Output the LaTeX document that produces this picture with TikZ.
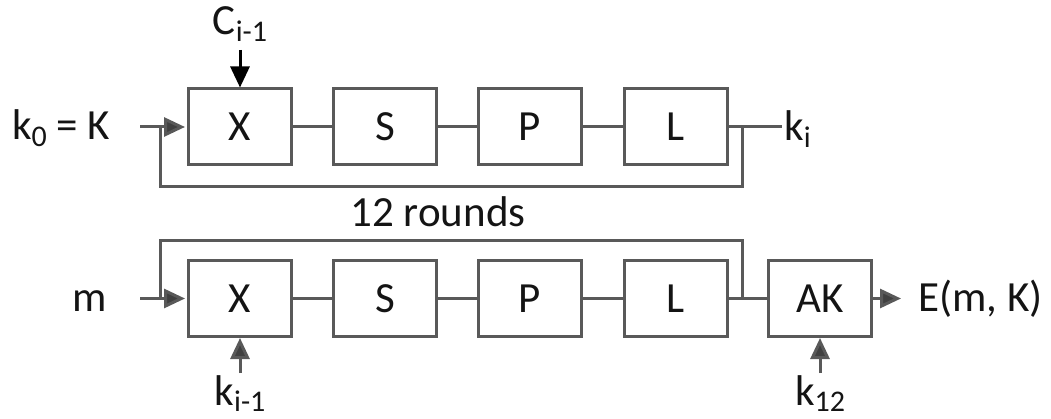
\documentclass[tikz,border=0pt]{standalone}
\usepackage{fontspec}
\setmainfont{Carlito}
\usetikzlibrary{arrows.meta}
\definecolor{linegray}{HTML}{595959}
\definecolor{headgray}{HTML}{404040}
\definecolor{txt}{HTML}{141414}
\newcommand\lowsub[1]{\raisebox{-0.3ex}{\fontsize{30}{32}\selectfont #1}}
\tikzset{
  blk/.style={draw=linegray, line width=3pt, minimum width=103pt, minimum height=76pt, inner sep=0pt, text=txt},
  wire/.style={draw=linegray, line width=3pt},
  garrow/.style={wire, -{Triangle[length=21pt,width=19pt,fill=headgray]}, shorten >=2pt},
  lbl/.style={inner sep=0pt, text=txt, anchor=base}
}
\begin{document}
\begin{tikzpicture}[x=1pt,y=-1pt, font=\fontsize{43}{50}\selectfont]
\useasboundingbox (0,0) rectangle (1051,419);
% top row
\node[blk] (X1) at (240,127) {X};
\node[blk] (S1) at (385,127) {S};
\node[blk] (P1) at (530,127) {P};
\node[blk] (L1) at (675.5,127) {L};
\node[lbl, anchor=base west] (k0) at (12,140) {k\lowsub{0} = K};
\coordinate (k0e) at (140,127);
\node[lbl, anchor=base west] (ki) at (784,141) {k\lowsub{i}};
\coordinate (kie) at (782,127);
\node[lbl] (C) at (240,35) {C\lowsub{i-1}};
\coordinate (Cs) at (240,50);
\draw[wire] (X1) -- (S1);
\draw[wire] (S1) -- (P1);
\draw[wire] (P1) -- (L1);
\draw[wire] (L1) -- (kie);
\draw[garrow] (k0e) -- (X1);
\draw[wire] (742,127) |- (160,187) -- (160,127);
\draw[draw=black, line width=3pt, -{Triangle[length=21pt,width=19pt,fill=black]}] (Cs) -- (X1.north);
\node[lbl] (rounds) at (438,227) {12 rounds};
% bottom row
\node[blk] (X2) at (240,298.5) {X};
\node[blk] (S2) at (385,298.5) {S};
\node[blk] (P2) at (530,298.5) {P};
\node[blk] (L2) at (675.5,298.5) {L};
\node[blk] (AK) at (820,298.5) {AK};
\node[lbl] (m) at (90,312) {m};
\coordinate (me) at (140,298.5);
\node[lbl, anchor=base west] (E) at (918,312) {E(m, K)};
\node[lbl] (kim) at (240,405) {k\lowsub{i-1}};
\node[lbl] (k12) at (820,405) {k\lowsub{12}};
\draw[wire] (X2) -- (S2);
\draw[wire] (S2) -- (P2);
\draw[wire] (P2) -- (L2);
\draw[wire] (L2) -- (AK);
\draw[garrow] (me) -- (X2);
\draw[wire] (742,298.5) |- (160,241) -- (160,298.5);
\draw[garrow, shorten >=0pt] (AK.east) -- (901,298.5);
\draw[garrow, shorten >=0pt] (240,373) -- (X2.south);
\draw[garrow, shorten >=0pt] (820,373) -- (AK.south);
\end{tikzpicture}
\end{document}
